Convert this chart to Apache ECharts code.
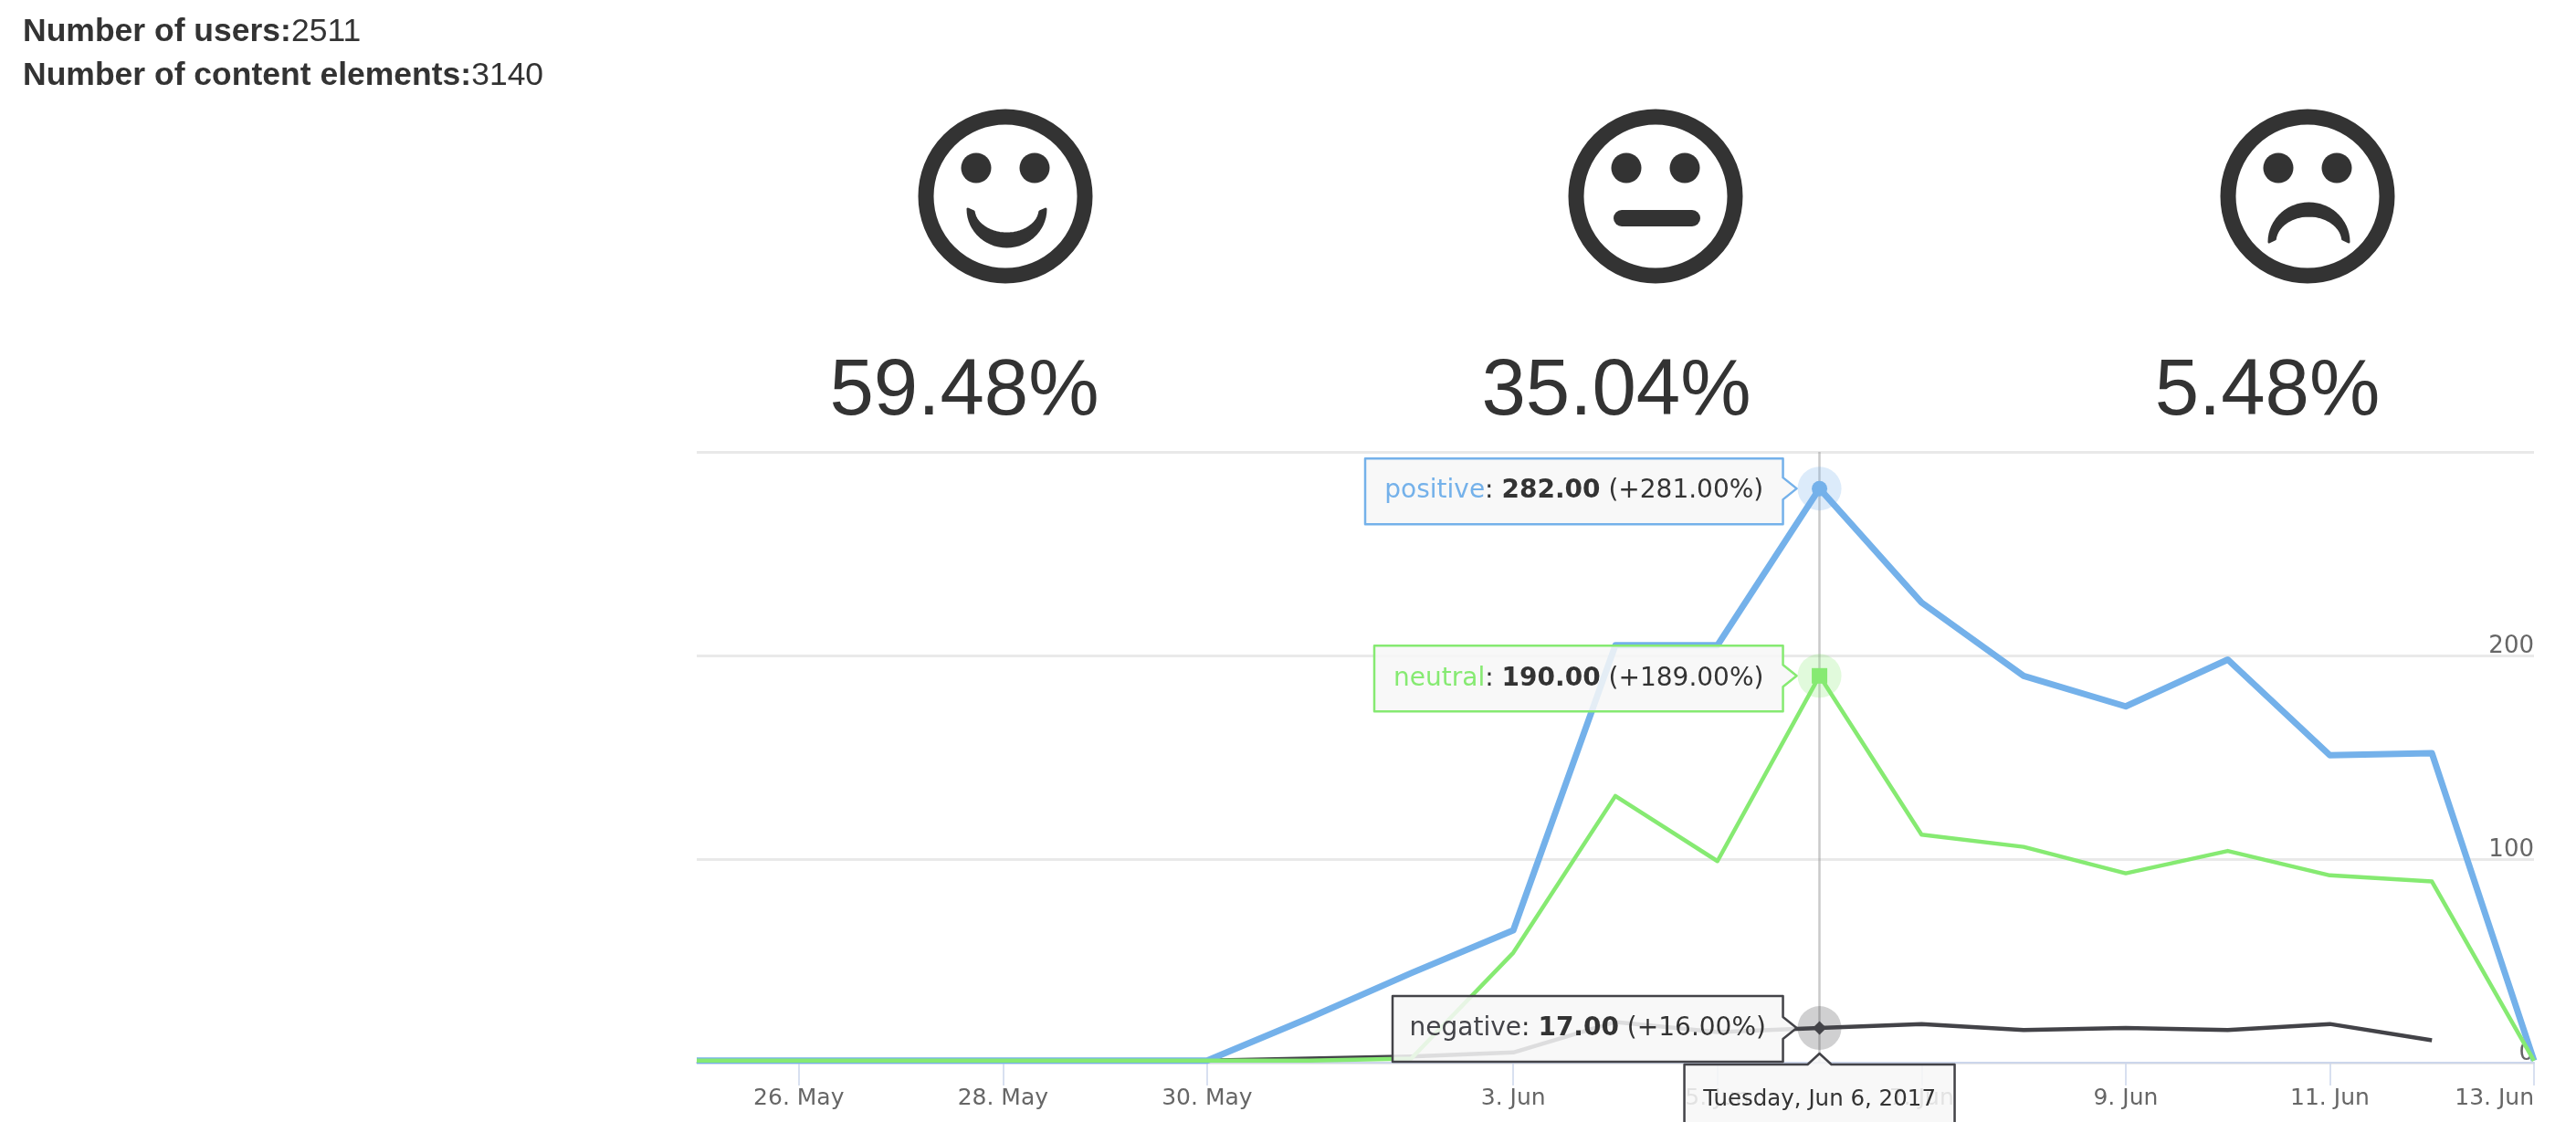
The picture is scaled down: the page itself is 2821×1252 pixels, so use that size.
<!DOCTYPE html>
<html>
<head>
<meta charset="utf-8">
<style>html,body{margin:0;padding:0;background:#fff}#main{width:2821px;height:1252px}</style>
<script src="https://cdn.jsdelivr.net/npm/echarts@6/dist/echarts.min.js"></script>
</head>
<body>
<div id="main"></div>
<script>
// values
var dates = ['25. May','26. May','27. May','28. May','29. May','30. May','1. Jun','2. Jun','3. Jun','4. Jun','5. Jun','6. Jun','7. Jun','8. Jun','9. Jun','10. Jun','11. Jun','12. Jun','13. Jun'];
var positive = [1,1,1,1,1,1,22,44,65,205,205,282,226,190,175,198,151,152,1];
var neutral  = [1,1,1,1,1,1,1,2,54,131,99,190,112,106,93,104,92,89,1];
var negative = [1,1,1,1,1,1,2,3,5,20,15,17,19,16,17,16,19,11,null];
var tickDates = ['26. May','28. May','30. May','3. Jun','5. Jun','7. Jun','9. Jun','11. Jun','13. Jun'];
var shares = ['59.48%','35.04%','5.48%'];
var hoverIdx = 11;
var hoverDate = 'Tuesday, Jun 6, 2017';
var numUsers = 2511, numElements = 3140;

var INK = '#333333';
var BLUE = '#74b1ea', GREEN = '#86ea72', DARK = '#434348';
var BOX_FILL = 'rgba(247,247,247,0.86)';

function isTick(i, v) { return tickDates.indexOf(v) >= 0; }

function hoverMarks(vals, color, sym, symSize) {
	var at = [dates[hoverIdx], vals[hoverIdx]];
	return {
		z: 6, silent: true, label: {show: false},
		data: [
			{coord: at, symbol: 'circle', symbolSize: 48, itemStyle: {color: color, opacity: 0.25}},
			{coord: at, symbol: sym, symbolSize: symSize, itemStyle: {color: color}}
		]
	};
}

function lineSeries(name, vals, color, width, marks) {
	return {
		name: name, type: 'line', data: vals, showSymbol: false, symbol: 'none', clip: false, silent: true,
		lineStyle: {color: color, width: width, join: 'round'}, markPoint: marks
	};
}

// filled mouth shape, half ellipses between the two corners
function crescent(x0, x1, yEnd, yOuter, yInner) {
	var pts = [], n = 30, i, a, cx = (x0 + x1) / 2, rx = (x1 - x0) / 2;
	for (i = 0; i <= n; i++) {
		a = Math.PI * i / n;
		pts.push([cx - rx * Math.cos(a), yEnd + (yOuter - yEnd) * Math.sin(a)]);
	}
	for (i = n - 1; i > 0; i--) {
		a = Math.PI * i / n;
		pts.push([cx - rx * 0.86 * Math.cos(a), yEnd + (yInner - yEnd) * Math.sin(a)]);
	}
	return {type: 'polygon', shape: {points: pts}, style: {fill: INK, stroke: INK, lineWidth: 3, lineJoin: 'round'}};
}

function face(cx, mouth) {
	var cy = 215;
	return [
		{type: 'circle', shape: {cx: cx, cy: cy, r: 87}, style: {fill: 'none', stroke: INK, lineWidth: 17}},
		{type: 'circle', shape: {cx: cx - 32, cy: cy - 31, r: 16.5}, style: {fill: INK}},
		{type: 'circle', shape: {cx: cx + 32, cy: cy - 31, r: 16.5}, style: {fill: INK}},
		mouth
	];
}

function shareText(cx, txt) {
	return {type: 'text', x: cx, y: 430, style: {text: txt, fill: INK, font: '87px "Liberation Sans"', align: 'center', verticalAlign: 'middle'}};
}

function countText(y, label, n) {
	return {
		type: 'text', x: 25, y: y,
		style: {
			text: '{b|' + label + ':}{r|' + n + '}', verticalAlign: 'middle', fill: INK,
			rich: {
				b: {font: 'bold 35.5px "Liberation Sans"', fill: INK},
				r: {font: '35.5px "Liberation Sans"', fill: INK}
			}
		}
	};
}

var chart = echarts.init(document.getElementById('main'));
chart.setOption({
	backgroundColor: '#ffffff',
	animation: false,
	grid: {left: 763, right: 46, top: 495, bottom: 88, containLabel: false},
	xAxis: {
		type: 'category', data: dates, boundaryGap: false,
		axisLine: {lineStyle: {color: '#ccd6eb', width: 2}},
		axisTick: {alignWithLabel: true, length: 25, interval: isTick, lineStyle: {color: '#ccd6eb', width: 1.5}},
		axisLabel: {interval: isTick, margin: 27, color: '#666666', fontFamily: 'DejaVu Sans', fontSize: 25, alignMaxLabel: 'right', hideOverlap: false},
		splitLine: {show: false}
	},
	yAxis: {
		type: 'value', position: 'right', min: 0, max: 300, interval: 100,
		axisLine: {show: false}, axisTick: {show: false},
		splitLine: {lineStyle: {color: '#e9e9e9', width: 3}},
		axisLabel: {inside: true, margin: 0, showMaxLabel: false, verticalAlign: 'bottom', lineHeight: 20, color: '#666666', fontFamily: 'DejaVu Sans', fontSize: 26}
	},
	series: [
		lineSeries('negative', negative, DARK, 4.5, hoverMarks(negative, DARK, 'diamond', 15)),
		lineSeries('positive', positive, BLUE, 7, hoverMarks(positive, BLUE, 'circle', 17)),
		lineSeries('neutral', neutral, GREEN, 4.5, hoverMarks(neutral, GREEN, 'rect', 17))
	]
});
chart.setOption({
	series: [{
		markLine: {
			silent: true, symbol: 'none', z: 3, label: {show: false},
			lineStyle: {color: 'rgba(150,150,150,0.5)', width: 2.5, type: 'solid'},
			data: [{xAxis: dates[hoverIdx]}]
		}
	}]
});

// hover boxes sit where the scales put the hovered point
function hoverBox(name, vals, color, nameColor, left, dy) {
	var v = vals[hoverIdx];
	var p = chart.convertToPixel({xAxisIndex: 0, yAxisIndex: 0}, [hoverIdx, v]);
	var tip = p[0] - 25, a = tip - 15, cy = p[1] + dy, h = 36, tipY = p[1];
	var txt = {font: '28px "DejaVu Sans"', fill: INK};
	return [
		{
			type: 'polygon', z: 10, silent: true,
			shape: {points: [[left, cy - h], [a, cy - h], [a, tipY - 12], [tip, tipY], [a, tipY + 12], [a, cy + h], [left, cy + h]]},
			style: {fill: BOX_FILL, stroke: color, lineWidth: 2.5, lineJoin: 'round'}
		},
		{
			type: 'text', z: 11, silent: true, x: (left + a) / 2, y: cy,
			style: {
				text: '{n|' + name + '}{t|: }{b|' + v.toFixed(2) + '}{t| (+' + (v - vals[0]).toFixed(2) + '%)}',
				align: 'center', verticalAlign: 'middle',
				rich: {n: {font: txt.font, fill: nameColor}, t: txt, b: {font: 'bold 28px "DejaVu Sans"', fill: INK}}
			}
		}
	];
}

function dateBox() {
	var p = chart.convertToPixel({xAxisIndex: 0, yAxisIndex: 0}, [hoverIdx, 0]);
	var x = p[0], top = p[1] + 2, bot = 1229, hw = 148;
	return [
		{
			type: 'polyline', z: 12, silent: true,
			shape: {points: [[x - hw, bot], [x - hw, top], [x - 13, top], [x, top - 12], [x + 13, top], [x + hw, top], [x + hw, bot]]},
			style: {fill: BOX_FILL, stroke: DARK, lineWidth: 2.5, lineJoin: 'round'}
		},
		{
			type: 'text', z: 13, silent: true, x: x, y: top + 39,
			style: {text: hoverDate, fill: INK, font: '24.5px "DejaVu Sans"', align: 'center', verticalAlign: 'middle'}
		}
	];
}

chart.setOption({
	graphic: {
		elements: [
			countText(35, 'Number of users', numUsers),
			countText(83, 'Number of content elements', numElements),
			shareText(1056, shares[0]), shareText(1770, shares[1]), shareText(2483, shares[2])
		].concat(
			face(1101, crescent(1060, 1145, 229, 270, 256)),
			face(1813, {type: 'rect', shape: {x: 1767, y: 230, width: 95, height: 18, r: 9}, style: {fill: INK}}),
			face(2527, crescent(2485, 2572, 265, 223, 236)),
			hoverBox('positive', positive, BLUE, BLUE, 1495, 3),
			hoverBox('neutral', neutral, GREEN, GREEN, 1505, 3),
			hoverBox('negative', negative, DARK, DARK, 1525, 1),
			dateBox()
		)
	}
});
</script>
</body>
</html>
